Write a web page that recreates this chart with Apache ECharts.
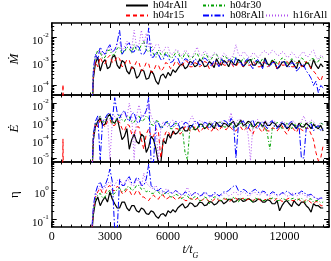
<!DOCTYPE html>
<html><head><meta charset="utf-8">
<script src="https://cdn.jsdelivr.net/npm/echarts@6/dist/echarts.min.js"></script>
<style>html,body{margin:0;padding:0;background:#fff}#c{width:331px;height:261px}</style>
</head><body><div id="c"></div>
<script>
const seriesNames = ['h04rAll','h04r15','h04r30','h08rAll','h16rAll'];
const time = [540,580,620,2000,2150,
 2250,2375,2500,2625,2750,2875,3000,3125,3250,3375,
 3500,3625,3750,3875,4000,4125,4250,4375,4500,4625,
 4750,4875,5000,5125,5250,5375,5500,5625,5750,5875,
 6000,6125,6250,6375,6500,6625,6750,6875,7000,7125,
 7250,7375,7500,7625,7750,7875,8000,8125,8250,8375,
 8500,8625,8750,8875,9000,9125,9250,9375,9500,9625,
 9750,9875,10000,10125,10250,10375,10500,10625,10750,10875,
 11000,11125,11250,11375,11500,11625,11750,11875,12000,12125,
 12250,12375,12500,12625,12750,12875,13000,13125,13250,13375,
 13500,13625,13750,13875,14000];
const xTickLabels = [0,3000,6000,9000,12000];

// Mdot
const mdot_h04rAll = [null,null,null,1e-7,2e-4,
 8e-4,1.5e-3,4e-4,9e-4,1.2e-3,5e-4,6e-4,1.5e-3,1.8e-3,7e-4,
 5e-4,1.1e-3,9e-4,4e-4,3e-4,6e-4,5e-4,2e-4,2.5e-4,4.5e-4,
 4e-4,1.8e-4,2e-4,4e-4,3e-4,1.5e-4,1.1e-4,2.5e-4,3e-4,2e-4,
 3.5e-4,2.5e-4,4.5e-4,3.5e-4,5e-4,7e-4,8e-4,5e-4,6e-4,1e-3,
 9e-4,6e-4,7e-4,1.2e-3,1e-3,6e-4,6.5e-4,1e-3,8e-4,5.5e-4,
 1.3e-3,8e-4,7e-4,1.1e-3,9e-4,6e-4,1.1e-3,8e-4,7e-4,1.2e-3,
 1e-3,6e-4,8e-4,1.1e-3,1.2e-3,7e-4,7e-4,1e-3,9e-4,6e-4,
 1.4e-3,8e-4,7e-4,1.1e-3,9e-4,5e-4,6e-4,9e-4,1e-3,6e-4,
 8e-4,1.1e-3,7e-4,5e-4,1.1e-3,7e-4,6e-4,9e-4,8e-4,5e-4,
 1.2e-3,7e-4,5e-4,8e-4,6e-4];
const mdot_h04r15 = [1e-8,1.1e-4,1e-8,1e-7,3e-4,
 1e-3,6e-4,1.5e-3,9e-4,8e-4,1.4e-3,1.8e-3,9e-4,1e-3,1.6e-3,
 1.3e-3,6e-4,7e-4,1.2e-3,1.1e-3,5e-4,6e-4,1e-3,9e-4,4e-4,
 5e-4,9e-4,8e-4,3.5e-4,4e-4,7e-4,7e-4,4e-4,5e-4,9e-4,
 8e-4,5e-4,6e-4,1e-3,9e-4,6e-4,7e-4,1.1e-3,1e-3,6e-4,
 6e-4,9e-4,8e-4,6e-4,7e-4,1e-3,9e-4,5e-4,6e-4,1e-3,
 8e-4,6e-4,1e-3,7e-4,7e-4,1.1e-3,9e-4,6e-4,6e-4,9e-4,
 8e-4,6e-4,1e-3,7e-4,7e-4,1e-3,8e-4,6e-4,6e-4,9e-4,
 9e-4,6e-4,7e-4,1e-3,8e-4,5e-4,1e-3,7e-4,7e-4,1e-3,
 8e-4,6e-4,6e-4,9e-4,9e-4,6e-4,7e-4,1e-3,8e-4,5e-4,
 4e-4,3e-4,2e-4,1.5e-4,3e-4];
const mdot_h04r30 = [null,null,null,1e-7,4e-4,
 1.5e-3,3e-3,2.5e-3,1.3e-3,1.5e-3,2.8e-3,3e-3,1.8e-3,2e-3,3.5e-3,
 4e-3,2e-3,2.5e-3,4e-3,3.5e-3,2.2e-3,5e-3,3e-3,3e-3,5e-3,
 7e-3,3e-3,2.5e-3,4e-3,2e-3,1.5e-3,3e-3,2e-3,1.5e-3,2.5e-3,
 2.2e-3,1.4e-3,1.5e-3,2.2e-3,2.5e-3,1.5e-3,1.3e-3,2.3e-3,2e-3,1.2e-3,
 1.4e-3,2e-3,2.2e-3,1.3e-3,1.2e-3,2e-3,1.8e-3,1.1e-3,1.3e-3,2e-3,
 2e-3,1.2e-3,1.1e-3,1.7e-3,1.5e-3,1e-3,1e-3,1.5e-3,1.4e-3,9e-4,
 9e-4,1.4e-3,1.2e-3,8e-4,1e-3,1.4e-3,1.3e-3,8e-4,9e-4,1.3e-3,
 1.1e-3,7e-4,8e-4,1.2e-3,1.2e-3,8e-4,1e-3,1.4e-3,1.3e-3,8e-4,
 9e-4,1.3e-3,1.1e-3,8e-4,1e-3,1.4e-3,1.2e-3,8e-4,9e-4,1.3e-3,
 1.3e-3,9e-4,1e-3,1.5e-3,1.4e-3];
const mdot_h08rAll = [null,null,null,1e-7,5e-4,
 2e-3,1.2e-3,4e-3,2.5e-3,2e-3,3.5e-3,5e-3,2.5e-3,3e-3,6e-3,
 2e-2,2e-3,3e-3,5e-3,6e-3,2.5e-3,2.5e-3,4.5e-3,4e-3,2e-3,
 2e-3,3e-3,2.5e-2,1.5e-3,1.5e-3,2.5e-3,2e-3,1.2e-3,1.2e-3,2e-3,
 1.6e-3,9e-4,1e-3,1.6e-3,1.4e-3,8e-4,9e-4,1.3e-3,1.2e-3,7e-4,
 8e-4,1.3e-3,1.1e-3,7e-4,9e-4,1.4e-3,1.2e-3,7e-4,7e-4,1.1e-3,
 1e-3,6e-4,1.3e-3,9e-4,8e-4,1.2e-3,1.1e-3,7e-4,1.5e-3,1e-3,
 9e-4,6e-4,1.1e-3,1.3e-3,7e-4,5e-4,1e-3,1.2e-3,8e-4,5e-4,
 1.2e-3,7e-4,6e-4,9e-4,9e-4,5e-4,7e-4,1e-3,1e-3,6e-4,
 6e-4,9e-4,8e-4,4e-4,5e-4,8e-4,7e-4,4e-4,3e-4,2e-4,
 1e-4,1.5e-4,5e-5,1e-4,8e-5];
const mdot_h16rAll = [null,null,null,1e-7,3e-4,
 1.5e-3,2.5e-3,3e-3,1.8e-3,2e-3,3.5e-3,4e-3,2.5e-3,3e-3,5e-3,
 6e-3,3e-3,4e-3,7e-3,5e-3,3.5e-3,2e-2,4e-3,5e-3,2e-2,
 5e-3,1.5e-2,4e-3,6e-3,3e-3,5e-3,5e-3,2.5e-3,2.5e-3,4e-3,
 4e-3,2e-3,2e-3,3e-3,3e-3,1.8e-3,1.8e-3,3e-3,2.5e-3,1.6e-3,
 1.6e-3,2.5e-3,4e-3,2e-3,1.8e-3,2.8e-3,2.2e-3,1.5e-3,1.5e-3,2.3e-3,
 2e-3,1.4e-3,1.4e-3,2.2e-3,1.8e-3,1.3e-3,1.3e-3,2e-3,5e-3,2e-3,
 1.6e-3,2.5e-3,2.2e-3,1.5e-3,1.5e-3,2.3e-3,2e-3,1.4e-3,1.8e-3,2.5e-3,
 2.8e-3,2e-3,2e-3,3e-3,2.5e-3,1.8e-3,1.8e-3,2.6e-3,2.2e-3,1.5e-3,
 1.6e-3,2.4e-3,2e-3,1.4e-3,1.5e-3,2.2e-3,2.5e-3,1.6e-3,1.6e-3,2.4e-3,
 3e-3,1.5e-3,1.2e-3,1.8e-3,1.5e-3];

// Edot
const edot_h04rAll = [null,null,null,1e-8,1e-4,
 5e-4,1e-3,1.5e-3,6e-4,7e-4,1.8e-3,2.5e-3,1e-3,8e-4,1.5e-3,
 4e-4,1e-4,1.5e-4,4e-4,3e-5,1e-4,2e-4,8e-5,6e-5,2e-4,
 1.5e-4,2e-5,4e-5,1.5e-4,1e-4,3e-5,5e-6,5e-6,1e-4,6e-5,
 2e-4,1.2e-4,3e-4,2e-4,2.5e-4,4e-4,5e-4,3e-4,3e-4,6e-4,
 6e-4,3.5e-4,4e-4,7e-4,7e-4,4e-4,5e-4,8e-4,6e-4,4e-4,
 9e-4,6e-4,5e-4,8e-4,7e-4,5e-4,8e-4,1e-3,5e-4,7e-4,
 1.2e-3,6e-4,7e-4,1e-3,9e-4,5e-4,6e-4,9e-4,8e-4,5e-4,
 1e-3,6e-4,6e-4,9e-4,8e-4,5e-4,5e-4,8e-4,7e-4,4e-4,
 5e-4,8e-4,6e-4,4e-4,8e-4,5e-4,5e-4,8e-4,6e-4,4e-4,
 7e-4,5e-4,4e-4,6e-4,3e-4];
const edot_h04r15 = [1e-8,1.1e-4,1e-8,1e-8,2e-4,
 8e-4,5e-4,1.2e-3,7e-4,5e-4,1e-3,1.3e-3,6e-4,6e-4,1.1e-3,
 9e-4,4e-4,3e-4,7e-4,6e-4,2e-4,2e-4,5e-4,5e-4,1e-4,
 3e-5,2e-4,4e-4,1.5e-4,1.5e-4,4e-4,3e-4,1e-5,8e-5,2.5e-4,
 3e-4,1.5e-4,2e-4,4e-4,4e-4,2e-4,3e-4,5e-4,5e-4,3e-4,
 3e-4,5e-4,4.5e-4,2.5e-4,3.5e-4,5.5e-4,5e-4,3e-4,3e-4,5e-4,
 4e-4,3e-4,5e-4,4e-4,3.5e-4,5.5e-4,4.5e-4,3e-4,3e-4,4.5e-4,
 5e-4,3e-4,4e-4,5.5e-4,3e-4,2e-4,4.5e-4,6e-4,3.5e-4,2.5e-4,
 5e-4,3e-4,3e-4,4.5e-4,4e-4,3e-4,4.5e-4,6e-4,3e-4,2e-4,
 4e-4,5e-4,3.5e-4,2.5e-4,5e-4,3.5e-4,3e-4,4.5e-4,4e-4,2e-4,
 1e-4,2e-5,7e-6,1e-5,5e-5];
const edot_h04r30 = [null,null,null,1e-8,2e-4,
 7e-4,1.2e-3,2e-3,9e-4,1e-3,2e-3,1.5e-3,8e-4,8e-4,1.6e-3,
 2.5e-3,1.2e-3,1e-3,1.8e-3,1.8e-3,9e-4,9e-4,1.5e-3,2e-3,1e-3,
 1.2e-3,2e-3,1.5e-3,7e-4,6e-4,1.1e-3,1e-3,5e-4,5e-4,9e-4,
 8e-4,4e-4,4e-4,8e-4,7e-4,3e-4,3e-4,2e-5,8e-6,4e-4,
 6e-4,3e-4,4e-4,7e-4,7e-4,4e-4,5e-4,8e-4,8e-4,5e-4,
 6e-4,9e-4,9e-4,5e-4,5e-4,8e-4,7e-4,4e-4,6e-4,9e-4,
 8e-4,5e-4,5e-4,8e-4,7e-4,4e-4,6e-4,9e-4,8e-4,5e-4,
 5e-4,2e-4,3e-5,4e-4,6e-4,9e-4,7e-4,4e-4,5e-4,8e-4,
 6e-4,4e-4,8e-4,5e-4,5e-4,8e-4,7e-4,4e-4,6e-4,9e-4,
 8e-4,5e-4,5e-4,8e-4,7e-4];
const edot_h08rAll = [null,null,null,1e-8,2e-4,
 1e-3,2e-3,8e-6,1e-3,1.5e-3,2.5e-3,3e-3,1.2e-3,2e-2,3e-3,
 1.5e-3,3e-3,4e-3,1.5e-3,1e-3,2.5e-3,3e-3,1e-3,8e-4,2e-3,
 2e-3,4e-3,2e-2,6e-6,6e-6,1e-3,8e-4,4e-4,5e-4,9e-4,
 1e-3,5e-4,6e-4,1e-3,9e-4,4e-4,5e-4,9e-4,8e-4,4e-4,
 6e-4,1e-3,1e-3,5e-4,5e-4,9e-4,8e-4,4e-4,6e-4,1e-3,
 9e-4,5e-4,7e-4,1.1e-3,1e-3,6e-4,1.5e-3,8e-4,1e-5,6e-4,
 8e-4,1.1e-3,6e-4,4e-4,9e-4,1.2e-3,5e-4,4e-4,8e-4,1e-3,
 6e-4,4e-4,9e-4,1.1e-3,5e-4,4e-4,7e-4,1e-3,6e-4,4e-4,
 8e-4,1e-3,5e-4,4e-4,7e-4,1e-5,1e-5,4e-4,5e-4,8e-4,
 3e-4,5e-4,6e-4,3e-4,4e-4];
const edot_h16rAll = [null,null,null,1e-8,1e-4,
 6e-4,1.2e-3,2e-3,9e-4,1e-3,2e-3,8e-6,1e-3,2e-3,1.2e-3,
 1e-3,2.5e-3,3e-3,1.5e-3,1e-2,2e-3,8e-6,2e-3,8e-3,2e-3,
 2e-3,3e-3,1e-2,2e-3,1e-3,6e-4,7e-6,4e-4,1e-3,6e-4,
 5e-4,9e-4,1.2e-3,6e-4,6e-4,1e-3,1e-3,5e-4,5e-4,1.2e-3,
 2e-3,8e-4,7e-4,1.1e-3,1e-3,6e-4,6e-4,1e-3,9e-4,5e-4,
 5e-4,9e-4,1e-3,6e-4,7e-4,1.1e-3,3e-3,8e-4,8e-4,1.3e-3,
 1.2e-3,7e-4,6e-4,2e-4,7e-6,6e-4,1e-3,1.3e-3,7e-4,5e-4,
 1.2e-3,8e-4,8e-4,1.2e-3,1e-3,6e-4,6e-4,1e-3,9e-4,6e-4,
 7e-4,1.1e-3,1e-3,6e-4,6e-4,1e-3,2e-3,9e-4,8e-4,1.2e-3,
 1e-3,6e-4,6e-4,9e-4,7e-4];

// eta
const eta_h04rAll = [null,null,null,0.01,0.15,
 0.4,0.6,0.3,0.45,0.6,0.4,0.9,0.5,0.35,0.25,
 0.25,0.4,0.4,0.25,0.2,0.3,0.3,0.2,0.18,0.25,
 0.22,0.16,0.15,0.2,0.18,0.13,0.11,0.15,0.16,0.13,
 0.2,0.17,0.22,0.18,0.25,0.3,0.35,0.25,0.28,0.38,
 0.35,0.28,0.3,0.4,0.38,0.3,0.32,0.42,0.4,0.32,
 0.35,0.45,0.45,0.35,0.4,0.5,0.5,0.4,0.42,0.52,
 0.5,0.42,0.45,0.52,0.48,0.4,0.42,0.5,0.5,0.4,
 0.4,0.48,0.45,0.35,0.35,0.45,0.2,0.3,0.4,0.45,
 0.35,0.28,0.45,0.35,0.3,0.4,0.4,0.3,0.25,0.18,
 0.35,0.3,0.3,0.25,0.25];
const eta_h04r15 = [null,null,null,0.01,0.2,
 0.6,0.9,1.2,0.8,0.8,1.3,1.5,1.0,1.0,1.4,
 1.2,0.8,0.8,1.1,1.0,0.7,0.7,1.0,0.9,0.6,
 0.6,0.5,0.45,0.6,0.7,0.55,0.5,0.7,0.7,0.5,
 0.55,0.65,0.6,0.5,0.5,0.6,0.55,0.45,0.45,0.55,
 0.5,0.45,0.55,0.5,0.45,0.55,0.5,0.42,0.4,0.5,
 0.55,0.45,0.45,0.52,0.5,0.42,0.45,0.55,0.55,0.45,
 0.5,0.55,0.45,0.5,0.55,0.45,0.5,0.55,0.45,0.4,
 0.5,0.45,0.55,0.5,0.45,0.55,0.5,0.42,0.45,0.5,
 0.55,0.45,0.45,0.52,0.5,0.4,0.4,0.5,0.45,0.38,
 0.35,0.42,0.4,0.3,0.3];
const eta_h04r30 = [null,null,null,0.01,0.2,
 0.5,0.7,0.8,0.55,0.6,0.9,1.0,0.7,0.8,1.1,
 1.2,0.9,1.0,1.3,1.4,1.0,1.1,1.5,1.5,1.1,
 1.2,0.9,1.0,0.8,0.8,1.0,0.9,0.7,0.7,0.85,
 0.8,0.6,0.6,0.75,0.7,0.5,0.55,0.7,0.65,0.5,
 0.5,0.62,0.6,0.45,0.45,0.6,0.55,0.35,0.5,0.6,
 0.6,0.48,0.45,0.55,0.55,0.45,0.5,0.58,0.45,0.4,
 0.55,0.48,0.5,0.55,0.45,0.4,0.55,0.5,0.5,0.45,
 0.45,0.5,0.5,0.55,0.55,0.45,0.45,0.55,0.5,0.45,
 0.45,0.52,0.55,0.45,0.5,0.55,0.45,0.38,0.5,0.52,
 0.4,0.45,0.45,0.38,0.4];
const eta_h08rAll = [null,null,null,0.01,0.3,
 0.8,1.5,2.0,1.2,1.5,2.5,5.5,2.0,0.04,0.04,
 2.5,1.5,1.5,2.5,3.0,1.8,1.8,2.8,2.5,1.5,
 1.5,2.5,8.0,1.5,1.2,1.0,1.0,1.2,0.9,0.8,
 1.0,0.85,0.8,1.0,0.9,0.75,0.7,0.9,0.8,0.65,
 0.7,0.85,0.85,0.65,0.7,0.9,0.8,0.65,0.65,0.85,
 0.8,0.65,0.75,0.9,0.9,1.0,1.2,1.4,1.5,1.0,
 0.9,1.1,1.0,0.8,0.8,1.0,1.1,0.9,0.8,0.95,
 0.9,0.7,0.75,0.9,0.85,0.7,0.7,0.85,0.8,0.95,
 0.85,0.7,0.7,0.85,0.8,0.95,0.9,0.7,0.7,0.75,
 0.6,0.55,0.5,0.55,0.55];
const eta_h16rAll = [null,null,null,0.01,0.2,
 0.6,1.0,1.5,1.1,1.2,1.8,2.0,1.4,1.5,2.2,
 2.5,1.6,1.8,2.5,2.2,1.5,1.5,2.5,2.0,1.4,
 4.0,1.8,1.5,1.2,1.2,1.5,1.0,0.9,0.8,1.1,
 1.1,0.8,0.8,1.0,0.9,0.7,0.7,0.9,1.3,0.8,
 0.7,0.85,0.8,0.65,0.65,0.8,0.75,0.6,0.6,0.75,
 0.7,0.6,0.65,0.8,0.8,0.65,0.7,0.85,0.9,0.7,
 0.75,0.9,0.8,0.65,0.7,0.85,0.85,0.7,0.7,0.85,
 0.8,0.65,0.65,0.8,0.75,0.65,0.7,0.8,0.75,0.65,
 0.65,0.8,0.8,0.65,0.7,0.8,0.75,0.6,0.6,0.7,
 0.65,0.55,0.5,0.6,0.5];

const SERIF = "'Liberation Serif','DejaVu Serif',serif";
const colors = ['#000000','#ff0000','#00a000','#0000ff','#b050f0'];
const dashes = ['solid',[4,3],[3,2,1,2],[6,2,1.5,2],[1,2]];
const widths = [1.2,1,1,1,1];

const panels = [
  {name:'\u1E40', data:[mdot_h04rAll,mdot_h04r15,mdot_h04r30,mdot_h08rAll,mdot_h16rAll], min:4e-5, max:4e-2, top:23, height:72, gap:17, italic:true},
  {name:'\u0116', data:[edot_h04rAll,edot_h04r15,edot_h04r30,edot_h08rAll,edot_h16rAll], min:6e-6, max:2.8e-2, top:95, height:67, gap:17, italic:true},
  {name:'\u03B7', data:[eta_h04rAll,eta_h04r15,eta_h04r30,eta_h08rAll,eta_h16rAll], min:0.055, max:9.6, top:162, height:70, gap:21, italic:false}
];

function minorLogTicks(mn, mx){
  const out = [];
  for (let e = Math.floor(Math.log10(mn)); e <= Math.ceil(Math.log10(mx)); e++){
    for (let k = 2; k <= 9; k++){
      const v = k*Math.pow(10,e);
      if (v > mn && v < mx) out.push(Math.log10(v));
    }
  }
  return out;
}

const grid = [], xAxis = [], yAxis = [], series = [];
const lineS = {color:'#000', width:1.5};
panels.forEach((p, i) => {
  grid.push({left:36, right:2, top:p.top, height:p.height});
  ['bottom','top'].forEach(pos => {
    xAxis.push({gridIndex:i, type:'value', position:pos, min:0, max:14300, interval:3000,
      axisLine:{show:true, onZero:false, lineStyle:lineS},
      axisTick:{inside:true, length:5, lineStyle:{color:'#000', width:1}},
      axisLabel:{show: i===2 && pos==='bottom', showMaxLabel:false, margin:4, color:'#000', fontFamily:SERIF, fontSize:12,
        formatter: v => (xTickLabels.indexOf(v) >= 0 ? String(v) : '')},
      splitLine:{show:false},
      name: (i===2 && pos==='bottom') ? '{i|t/t}{g|G}' : '',
      nameLocation:'middle', nameGap:16,
      nameTextStyle:{rich:{
        i:{fontFamily:SERIF, fontStyle:'italic', fontSize:12, lineHeight:13, verticalAlign:'top', color:'#000'},
        g:{fontFamily:SERIF, fontStyle:'italic', fontSize:8, lineHeight:8, padding:[8,0,0,0], verticalAlign:'top', color:'#000'}}}
    });
  });
  ['bottom','top'].forEach(pos => {
    xAxis.push({gridIndex:i, type:'value', position:pos, min:0, max:14300, interval:500,
      axisLine:{show:false, onZero:false},
      axisTick:{inside:true, length:2.5, lineStyle:{color:'#000', width:1}},
      axisLabel:{show:false}, splitLine:{show:false}});
  });
  ['left','right'].forEach(pos => {
    yAxis.push({gridIndex:i, type:'log', logBase:10, position:pos, min:p.min, max:p.max,
      axisLine:{show:true, onZero:false, lineStyle:lineS},
      axisTick:{inside:true, length:5, lineStyle:{color:'#000', width:1}},
      axisLabel:{show: pos==='left', showMinLabel:false, showMaxLabel:false, margin:3,
        formatter: v => '{b|10}{s|' + Math.round(Math.log10(v)) + '}',
        rich:{
          b:{fontFamily:SERIF, fontSize:11, lineHeight:12, padding:[4,0,0,0], verticalAlign:'top', color:'#000'},
          s:{fontFamily:SERIF, fontSize:7, lineHeight:8, verticalAlign:'top', color:'#000'}}},
      splitLine:{show:false},
      name: pos==='left' ? p.name : '', nameLocation:'middle', nameGap:p.gap, nameRotate:90,
      nameTextStyle:{fontFamily:SERIF, fontStyle:p.italic?'italic':'normal', fontSize:13, color:'#000'}
    });
  });
  const mt = minorLogTicks(p.min, p.max);
  ['left','right'].forEach(pos => {
    yAxis.push({gridIndex:i, type:'value', position:pos, min:Math.log10(p.min), max:Math.log10(p.max),
      axisLine:{show:false, onZero:false},
      axisTick:{show:true, inside:true, length:2.5, customValues:mt, lineStyle:{color:'#000', width:1}},
      axisLabel:{show:false}, splitLine:{show:false}});
  });
  p.data.forEach((arr, k) => {
    series.push({type:'line', name:seriesNames[k], xAxisIndex:4*i, yAxisIndex:4*i,
      data: time.map((t, j) => [t, arr[j]]),
      symbol:'none', clip:true, silent:true, connectNulls:false,
      lineStyle:{color:colors[k], width:widths[k], type:dashes[k]},
      itemStyle:{color:colors[k]}
    });
  });
});

function leg(name, left, top){
  return {data:[name], left:left, top:top, padding:0, itemWidth:22, itemHeight:10, itemGap:0,
    itemStyle:{opacity:0}, selectedMode:false,
    textStyle:{fontFamily:SERIF, fontSize:11, color:'#000', padding:[0,0,0,0]}};
}
const legend = [leg('h04rAll',125,0), leg('h04r30',202,0), leg('h04r15',125,10), leg('h08rAll',202,10), leg('h16rAll',265,10)];

const chart = echarts.init(document.getElementById('c'), null, {renderer:'canvas'});
chart.setOption({animation:false, backgroundColor:'#fff', grid, xAxis, yAxis, series, legend});
</script></body></html>
